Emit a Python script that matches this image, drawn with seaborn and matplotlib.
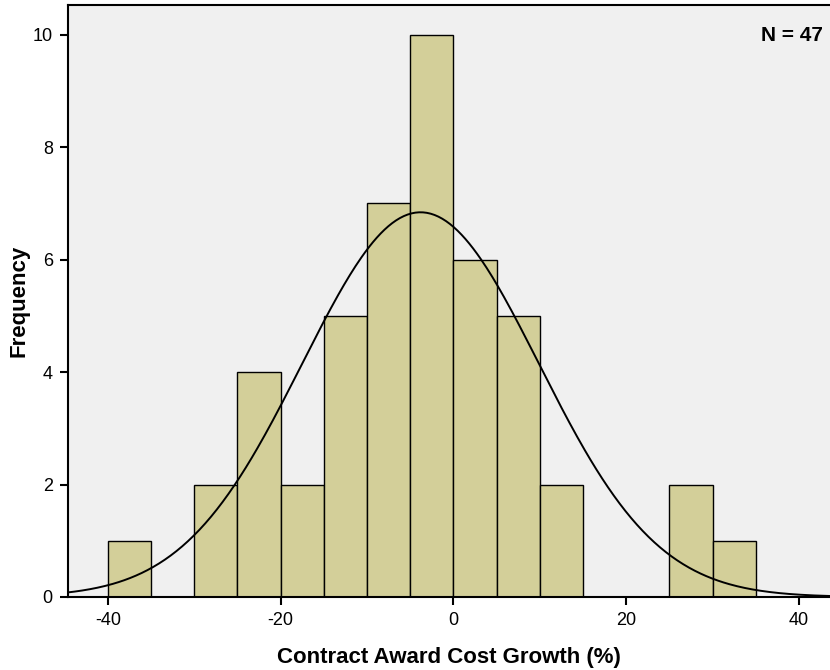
import numpy as np
import pandas as pd
import seaborn as sns
import matplotlib.pyplot as plt

# histogram bins (width 5) and counts
bin_edges = [-40, -35, -30, -25, -20, -15, -10, -5, 0, 5, 10, 15, 20, 25, 30, 35]
counts = [1, 0, 2, 4, 2, 5, 7, 10, 6, 5, 2, 0, 0, 2, 1]

# fitted normal curve parameters
n_total = 47
fit_mean = -3.8
fit_sd = 13.7
bin_width = 5

x_ticks = [-40, -20, 0, 20, 40]
y_ticks = [0, 2, 4, 6, 8, 10]

sns.set_theme(style="white")
plt.rcParams['font.family'] = ['Liberation Sans', 'DejaVu Sans']
plt.rcParams['axes.unicode_minus'] = False
plt.rcParams['text.color'] = 'black'
plt.rcParams['axes.labelcolor'] = 'black'
plt.rcParams['xtick.color'] = 'black'
plt.rcParams['ytick.color'] = 'black'

fig = plt.figure(figsize=(8.3, 6.7), dpi=100)
ax = fig.add_axes([0.082, 0.109, 0.918, 0.8835])
ax.set_facecolor("#F0F0F0")

mids = [(bin_edges[i] + bin_edges[i + 1]) / 2 for i in range(len(counts))]
df = pd.DataFrame({"x": mids, "w": counts})
sns.histplot(data=df, x="x", weights="w", bins=bin_edges, ax=ax,
             color="#D3CF99", alpha=1, edgecolor="black", linewidth=1)

xs = np.linspace(-45, 44, 400)
ys = n_total * bin_width / (fit_sd * np.sqrt(2 * np.pi)) * np.exp(-0.5 * ((xs - fit_mean) / fit_sd) ** 2)
sns.lineplot(x=xs, y=ys, ax=ax, color="black", linewidth=1.4)

ax.set_xlim(-44.6, 43.6)
ax.set_ylim(0, 10.53)
ax.set_xticks(x_ticks)
ax.set_yticks(y_ticks)
ax.tick_params(axis="both", direction="out", length=6, width=1.5, color="black",
               labelsize=13, bottom=True, left=True, pad=5)
for s in ["left", "top", "bottom"]:
    ax.spines[s].set_color("black")
    ax.spines[s].set_linewidth(1.5)
ax.spines["right"].set_visible(False)

ax.set_xlabel("Contract Award Cost Growth (%)", fontsize=16, fontweight="bold", labelpad=13)
ax.set_ylabel("Frequency", fontsize=16, fontweight="bold", labelpad=2)
ax.text(0.99, 0.949, "N = 47", transform=ax.transAxes, ha="right", va="center",
        fontsize=15, fontweight="bold")

fig.savefig("out.png", dpi=100)
